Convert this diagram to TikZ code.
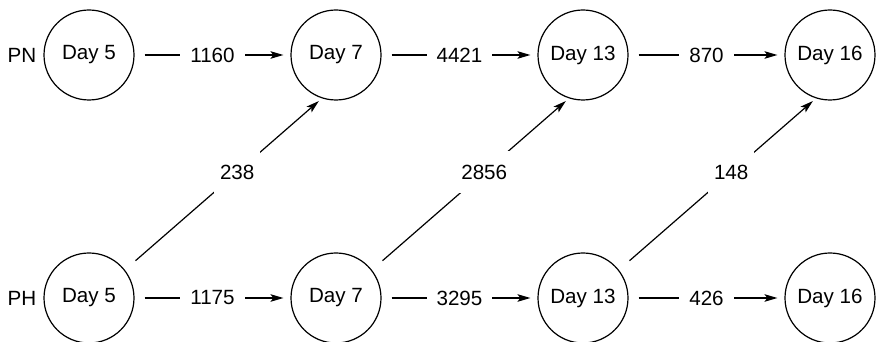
\documentclass[tikz,border=0pt]{standalone}
\usepackage{fontspec}
\setmainfont{Liberation Sans}
\usetikzlibrary{positioning, arrows.meta}

\begin{document}
\begin{tikzpicture}[x=0.5pt, y=0.5pt,
    day/.style={draw, circle, minimum size=45pt, inner sep=0pt, line width=0.6pt},
    edge/.style={line width=0.6pt, -{Stealth[length=6.5pt, width=3.8pt, inset=1.5pt]},
      shorten <=5pt, shorten >=3.5pt},
    diag/.style={edge, shorten <=7pt, shorten >=2pt},
    lbl/.style={fill=white, inner xsep=5pt, inner ysep=3pt},
    dlbl/.style={fill=white, inner xsep=3pt, inner ysep=7pt, pos=0.57}]
  \useasboundingbox (0,0) rectangle (889,342);
  \fontsize{10.3}{12}\selectfont

  \foreach \d [count=\i from 0] in {5,7,13,16} {
    \node[day] (pn\d) at (89+247*\i, 287) {Day \d};
    \node[day] (ph\d) at (89+247*\i, 44) {Day \d};
  }
  \node[left=0pt of pn5] (pn) {PN};
  \node[left=0pt of ph5] (ph) {PH};

  % PN row
  \draw[edge] (pn5) -- node[lbl] {1160} (pn7);
  \draw[edge] (pn7) -- node[lbl] {4421} (pn13);
  \draw[edge] (pn13) -- node[lbl] {870} (pn16);

  % PH row
  \draw[edge] (ph5) -- node[lbl] {1175} (ph7);
  \draw[edge] (ph7) -- node[lbl] {3295} (ph13);
  \draw[edge] (ph13) -- node[lbl] {426} (ph16);

  % PH to PN
  \draw[diag] (ph5.38) -- node[dlbl] {238} (pn7.252);
  \draw[diag] (ph7.38) -- node[dlbl] {2856} (pn13.252);
  \draw[diag] (ph13.38) -- node[dlbl] {148} (pn16.252);
\end{tikzpicture}
\end{document}
